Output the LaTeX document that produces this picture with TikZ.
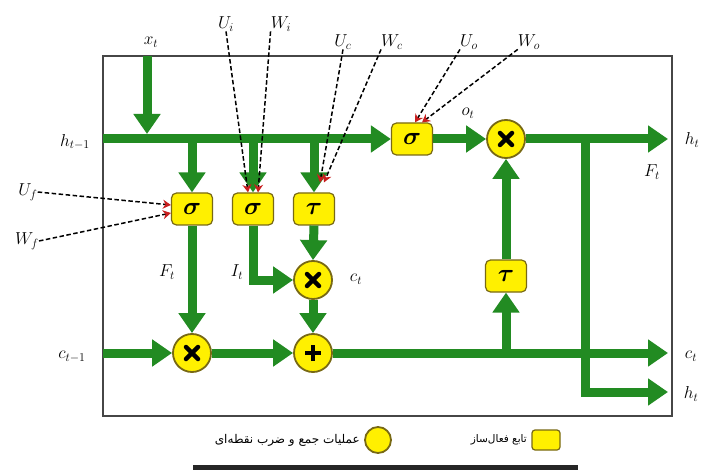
\documentclass[tikz,border=0pt]{standalone}
\usepackage{fontspec}
\usepackage{amsmath}
\usetikzlibrary{arrows.meta}
\TeXXeTstate=1
\newfontfamily\arabicfont[Script=Arabic]{DejaVu Sans}
\definecolor{lstmgreen}{RGB}{34,139,34}
\definecolor{opyellow}{RGB}{255,240,0}
\definecolor{opborder}{RGB}{120,105,20}
\definecolor{dashred}{RGB}{200,30,30}
\definecolor{framegray}{RGB}{70,70,70}
\begin{document}
\begin{tikzpicture}[x=1pt,y=-1pt,
  flow/.style={draw=lstmgreen, line width=9pt, -{Triangle[width=26pt,length=20pt]}},
  wgt/.style={draw=black, line width=1.5pt, dash pattern=on 4.5pt off 2.5pt, -{Stealth[color=dashred,width=9pt,length=8pt]}},
  actbox/.style={draw=opborder, fill=opyellow, line width=1.2pt, rounded corners=5pt, minimum width=41pt, minimum height=32pt, inner sep=0pt, font=\fontsize{26}{26}\selectfont},
  opcirc/.style={circle, draw=opborder, fill=opyellow, line width=1.8pt, minimum size=38pt, inner sep=0pt},
  mul/.style={opcirc, path picture={\draw[black, line width=4.5pt, line cap=round]
     ([xshift=-6pt,yshift=-6pt]path picture bounding box.center) -- ([xshift=6pt,yshift=6pt]path picture bounding box.center)
     ([xshift=-6pt,yshift=6pt]path picture bounding box.center) -- ([xshift=6pt,yshift=-6pt]path picture bounding box.center);}},
  add/.style={opcirc, path picture={\draw[black, line width=4.5pt]
     ([xshift=-8pt]path picture bounding box.center) -- ([xshift=8pt]path picture bounding box.center)
     ([yshift=-8pt]path picture bounding box.center) -- ([yshift=8pt]path picture bounding box.center);}},
  lbl/.style={font=\fontsize{18}{20}\selectfont, inner sep=0pt},
  legtxt/.style={anchor=east, inner sep=0pt},
]
\useasboundingbox (0,0) rectangle (706,470);
\fill[white] (0,0) rectangle (706,470);

% frame
\draw[framegray, line width=1.3pt] (103,56) rectangle (672,416);

% coordinates
\coordinate (hL) at (103,139);
\coordinate (xT) at (147,56);
\coordinate (xE) at (147,134);
\coordinate (cL) at (103,353);
\coordinate (hOut) at (668,139);
\coordinate (br) at (585,139);
\coordinate (hOut2) at (668,392);
\coordinate (cOut) at (668,353);

% nodes
\node[actbox] (sf) at (192,209) {$\boldsymbol{\sigma}$};
\node[actbox] (si) at (253,209) {$\boldsymbol{\sigma}$};
\node[actbox] (tc) at (314,209) {$\boldsymbol{\tau}$};
\node[actbox] (so) at (412,139) {$\boldsymbol{\sigma}$};
\node[actbox] (th) at (506,276) {$\boldsymbol{\tau}$};
\node[mul] (mo) at (506,139) {};
\node[mul] (mf) at (192,353) {};
\node[mul] (mc) at (313,280) {};
\node[add] (pl) at (313,353) {};

% green flows
\draw[flow] (hL) -- (so.west);
\draw[flow] (xT) -- (xE);
\draw[flow] (sf.north |- hL) -- (sf.north);
\draw[flow] (si.north |- hL) -- (si.north);
\draw[flow] (tc.north |- hL) -- (tc.north);
\draw[flow] (so.east) -- (mo.west);
\draw[flow] (mo.east) -- (hOut);
\draw[flow] (br) |- (hOut2);
\draw[flow] (sf.south) -- (mf.north);
\draw[flow] (si.south) |- (mc.west);
\draw[flow] (tc.south) -- (mc.north);
\draw[flow] (mc.south) -- (pl.north);
\draw[flow] (cL) -- (mf.west);
\draw[flow] (mf.east) -- (pl.west);
\draw[flow] (pl.east) -- (cOut);
\draw[flow] (th.south |- pl) -- (th.south);
\draw[flow] (th.north) -- (mo.south);

% labels
\node[lbl] (lxt) at (151,42) {$x_t$};
\node[lbl] (lUi) at (226,24) {$U_i$};
\node[lbl] (lWi) at (281,24) {$W_i$};
\node[lbl] (lUc) at (343,42) {$U_c$};
\node[lbl] (lWc) at (392,42) {$W_c$};
\node[lbl] (lUo) at (469,42) {$U_o$};
\node[lbl] (lWo) at (529,42) {$W_o$};
\node[lbl] (lUf) at (28,192) {$U_f$};
\node[lbl] (lWf) at (27,241) {$W_f$};
\node[lbl] (lh1) at (75,142) {$h_{t-1}$};
\node[lbl] (lc1) at (72,357) {$c_{t-1}$};
\node[lbl] (lot) at (468,113) {$o_t$};
\node[lbl] (lFt) at (167,272) {$F_t$};
\node[lbl] (lIt) at (237,272) {$I_t$};
\node[lbl] (lct) at (356,279) {$c_t$};
\node[lbl] (lht) at (692,140) {$h_t$};
\node[lbl] (lFr) at (652,172) {$F_t$};
\node[lbl] (lcr) at (691,356) {$c_t$};
\node[lbl] (lhr) at (691,394) {$h_t$};

% dashed weight inputs
\draw[wgt] (lUf.east) -- ([yshift=4pt]sf.west);
\draw[wgt] (lWf.east) -- ([yshift=-4pt]sf.west);
\draw[wgt] (lUi.south) -- ([xshift=-5pt]si.north);
\draw[wgt] (lWi.south west) -- ([xshift=5pt]si.north);
\draw[wgt] (lUc.south) -- ([xshift=6pt,yshift=10pt]tc.north);
\draw[wgt] (lWc.south west) -- ([xshift=10pt,yshift=10pt]tc.north);
\draw[wgt] (lUo.south west) -- ([xshift=3pt]so.north);
\draw[wgt] (lWo.south west) -- ([xshift=10pt]so.north);

% legend
\node[actbox, minimum width=28pt, minimum height=20pt, rounded corners=3pt] (legbox) at (546,440) {};
\node[legtxt, font=\arabicfont\fontsize{10.5}{12}\selectfont] (legboxtxt) at (527,440) {\beginR تابع فعال‌ساز\endR};
\node[opcirc, minimum size=26pt] (legcirc) at (378,440) {};
\node[legtxt, font=\arabicfont\fontsize{12}{14}\selectfont] (legcirctxt) at (360,440) {\beginR عملیات جمع و ضرب نقطه‌ای\endR};
\fill[black!85] (193,465) rectangle (578,472);
\end{tikzpicture}
\end{document}
